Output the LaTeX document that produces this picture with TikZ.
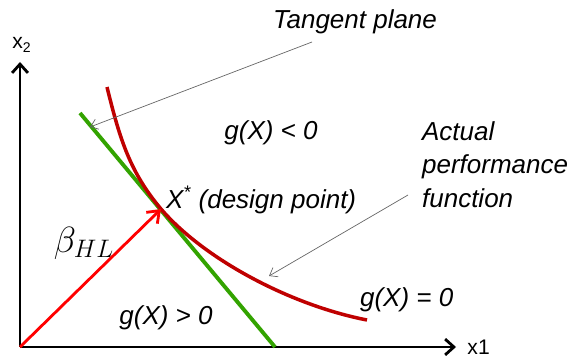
\documentclass[tikz,border=0pt]{standalone}
\usepackage{fontspec}
\setmainfont{Liberation Sans}
\usetikzlibrary{positioning, arrows.meta, calc}
\tikzset{
  axis/.style={line width=1.6pt, -{Straight Barb[length=5pt,width=9pt]}},
  tangentline/.style={line width=2.2pt, draw=green!55!black!80!yellow},
  limitcurve/.style={line width=2pt, draw=red!75!black},
  betavec/.style={line width=1.6pt, draw=red, -{Straight Barb[length=6pt,width=9pt]}},
  pointer/.style={thin, draw=gray!80!black, -{Straight Barb[length=4pt,width=6pt]}},
  lbl/.style={font=\fontsize{14.8}{18.8}\selectfont\itshape, inner sep=1pt}
}
\begin{document}
\begin{tikzpicture}[x=0.02cm, y=-0.02cm]
  \useasboundingbox (0,0) rectangle (573,358);

  % axes
  \coordinate (O) at (20,347);
  \draw [axis] (O) -- (20,62) coordinate (yend);
  \draw [axis] (O) -- (456,347) coordinate (xend);
  \node (xtwo) [font=\fontsize{12}{14}\selectfont] at (22,45) {x\textsubscript{2}};
  \node (xone) [font=\fontsize{12}{14}\selectfont, right=3pt of xend] {x1};

  % tangent plane and limit state
  \coordinate (gA) at (80,113);
  \coordinate (gB) at (275,347);
  \coordinate (dp) at (161,209);
  \draw [tangentline] (gA) -- (gB);
  \draw [limitcurve] (107,87) .. controls (120,140) and (130,172) .. (dp)
        .. controls (204,259) and (290,305) .. (367,320);
  \draw [betavec] (O) -- (dp);

  % labels
  \node (tangent) [lbl] at (355,22) {Tangent plane};
  \node (lneg) [lbl] at (271,133) {g(X) < 0};
  \node (actual) [lbl, align=left, anchor=north west] at (420,120) {Actual\\performance\\function};
  \node (design) [lbl, anchor=west] at (164,200) {X\textsuperscript{*} (design point)};
  \node (lzero) [lbl, anchor=west] at (358,300) {g(X) = 0};
  \node (lpos) [lbl] at (166,318) {g(X) > 0};
  \node (beta) [inner sep=0pt] at (84,243) {\fontsize{22}{24}\selectfont$\beta_{HL}$};

  \draw [pointer] (312,42) -- (90,127);
  \draw [pointer] (408,195) -- (269,276);
\end{tikzpicture}
\end{document}
